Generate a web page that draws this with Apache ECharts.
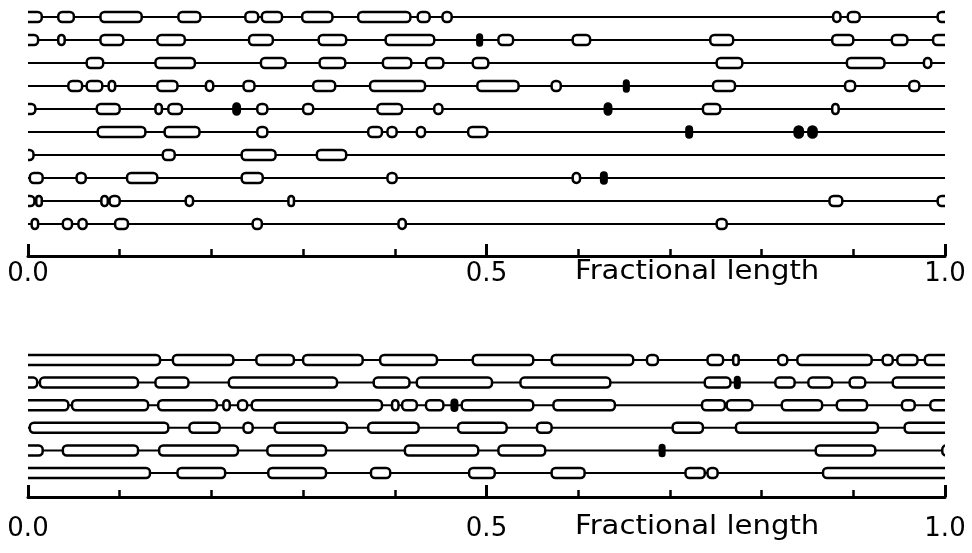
<!DOCTYPE html>
<html>
<head>
<meta charset="utf-8">
<script src="https://cdn.jsdelivr.net/npm/echarts@6/dist/echarts.min.js"></script>
<style>
  html, body { margin: 0; padding: 0; background: #fff; }
  #main { width: 972px; height: 553px; }
</style>
</head>
<body>
<div id="main"></div>
<script>
// segments along each row, as [start, end] in fractional length, third item 1 = solid dot
// (starts below 0 / ends above 1 are cut open at the panel edge)
var top1 = [[-0.02,0.015],[0.033,0.050],[0.079,0.124],[0.164,0.188],[0.237,0.251],[0.255,0.277],[0.299,0.332],[0.360,0.417],[0.425,0.438],[0.452,0.462],[0.878,0.886],[0.894,0.907],[0.992,1.02]];
var top2 = [[-0.02,0.011],[0.033,0.040],[0.079,0.104],[0.141,0.171],[0.241,0.267],[0.317,0.347],[0.390,0.443],[0.490,0.495,1],[0.513,0.529],[0.594,0.613],[0.744,0.769],[0.877,0.900],[0.942,0.959],[0.987,1.02]];
var top3 = [[0.064,0.082],[0.139,0.182],[0.254,0.281],[0.318,0.346],[0.387,0.418],[0.434,0.453],[0.485,0.502],[0.751,0.779],[0.893,0.934],[0.977,0.985]];
var top4 = [[0.044,0.059],[0.064,0.081],[0.088,0.095],[0.141,0.163],[0.194,0.202],[0.235,0.247],[0.311,0.335],[0.373,0.433],[0.490,0.535],[0.571,0.581],[0.650,0.655,1],[0.747,0.771],[0.891,0.902],[0.961,0.972]];
var top5 = [[-0.02,0.008],[0.075,0.100],[0.139,0.146],[0.153,0.168],[0.224,0.231,1],[0.250,0.261],[0.300,0.311],[0.381,0.408],[0.443,0.452],[0.629,0.636,1],[0.736,0.755],[0.877,0.884]];
var top6 = [[0.076,0.128],[0.149,0.187],[0.250,0.261],[0.371,0.386],[0.392,0.402],[0.424,0.433],[0.480,0.501],[0.718,0.724,1],[0.836,0.845,1],[0.851,0.860,1]];
var top7 = [[-0.02,0.006],[0.147,0.160],[0.233,0.270],[0.315,0.347]];
var top8 = [[0.002,0.016],[0.053,0.063],[0.108,0.141],[0.233,0.256],[0.392,0.402],[0.594,0.602],[0.625,0.631,1]];
var top9 = [[-0.02,0.007],[0.009,0.015],[0.080,0.087],[0.089,0.100],[0.172,0.180],[0.284,0.290],[0.874,0.888],[0.992,1.02]];
var top10 = [[0.004,0.011],[0.038,0.048],[0.055,0.064],[0.095,0.109],[0.245,0.255],[0.404,0.412],[0.751,0.762]];

var bot1 = [[-0.02,0.144],[0.158,0.224],[0.249,0.290],[0.300,0.365],[0.384,0.446],[0.485,0.551],[0.571,0.660],[0.675,0.687],[0.741,0.758],[0.769,0.775],[0.818,0.828],[0.839,0.920],[0.932,0.943],[0.948,0.970],[0.978,1.02]];
var bot2 = [[-0.02,0.010],[0.013,0.120],[0.139,0.175],[0.219,0.337],[0.377,0.416],[0.424,0.506],[0.537,0.635],[0.738,0.766],[0.771,0.776,1],[0.815,0.836],[0.851,0.877],[0.896,0.913],[0.943,1.02]];
var bot3 = [[-0.02,0.044],[0.048,0.131],[0.142,0.206],[0.213,0.220],[0.229,0.239],[0.244,0.386],[0.397,0.404],[0.408,0.424],[0.434,0.453],[0.462,0.468,1],[0.473,0.551],[0.573,0.640],[0.735,0.760],[0.762,0.790],[0.822,0.866],[0.882,0.915],[0.953,0.967],[0.984,1.02]];
var bot4 = [[0.002,0.153],[0.176,0.209],[0.235,0.245],[0.269,0.348],[0.371,0.426],[0.469,0.522],[0.555,0.571],[0.703,0.736],[0.772,0.927],[0.956,1.02]];
var bot5 = [[-0.02,0.016],[0.038,0.120],[0.143,0.229],[0.261,0.325],[0.411,0.491],[0.513,0.564],[0.689,0.694,1],[0.859,0.924],[0.997,1.02]];
var bot6 = [[-0.02,0.133],[0.163,0.215],[0.262,0.325],[0.374,0.395],[0.481,0.509],[0.571,0.607],[0.717,0.738],[0.741,0.752],[0.867,1.02]];

var topRows = [top1, top2, top3, top4, top5, top6, top7, top8, top9, top10];
var botRows = [bot1, bot2, bot3, bot4, bot5, bot6];

function boxData(rows) {
  var out = [];
  rows.forEach(function (r, i) {
    r.forEach(function (b) { out.push([i, b[0], b[1], b[2] || 0]); });
  });
  return out;
}
function lineData(rows) {
  return rows.map(function (r, i) { return [i, 0, 1]; });
}

function renderLine(params, api) {
  var a = api.coord([0, api.value(0)]);
  var b = api.coord([1, api.value(0)]);
  return {
    type: 'line',
    shape: { x1: a[0], y1: a[1], x2: b[0], y2: b[1] },
    style: { stroke: '#000', lineWidth: 2 }
  };
}

function renderBox(params, api) {
  var row = api.value(0);
  var a = api.coord([api.value(1), row]);
  var b = api.coord([api.value(2), row]);
  var solid = api.value(3) === 1;
  var h = solid ? 11 : 10, w = b[0] - a[0];
  return {
    type: 'rect',
    shape: { x: a[0], y: a[1] - h / 2, width: w, height: h, r: Math.min(4, w / 2) },
    style: { fill: solid ? '#000' : '#fff', stroke: '#000', lineWidth: 2.5 }
  };
}

function xAxisFor(idx, margin) {
  return {
    gridIndex: idx, type: 'value', position: 'bottom', min: 0, max: 1, interval: 0.5,
    axisLine: { onZero: false, lineStyle: { color: '#000', width: 3 } },
    axisTick: { inside: true, length: 12, lineStyle: { color: '#000', width: 3 } },
    minorTick: { show: true, splitNumber: 5, length: 7, lineStyle: { color: '#000', width: 2.5 } },
    splitLine: { show: false },
    minorSplitLine: { show: false },
    axisLabel: {
      formatter: function (v) { return v.toFixed(1); },
      color: '#000', fontSize: 26, fontFamily: 'DejaVu Sans', margin: margin
    }
  };
}
function yAxisFor(idx, max) {
  return { gridIndex: idx, type: 'value', inverse: true, min: -0.5, max: max, show: false };
}

var chart = echarts.init(document.getElementById('main'));
chart.setOption({
  animation: false,
  backgroundColor: '#fff',
  grid: [
    { left: 28, right: 27, top: 5.5, height: 250.5 },
    { left: 28, right: 27, top: 348.7, height: 148.3 }
  ],
  xAxis: [xAxisFor(0, 5), xAxisFor(1, 19)],
  yAxis: [yAxisFor(0, 10.39), yAxisFor(1, 6.06)],
  graphic: [
    { type: 'text', left: 575, top: 259, scaleX: 1.12, style: { text: 'Fractional length', font: '26px "DejaVu Sans"', fill: '#000' } },
    { type: 'text', left: 575, top: 514, scaleX: 1.12, style: { text: 'Fractional length', font: '26px "DejaVu Sans"', fill: '#000' } }
  ],
  series: [
    { type: 'custom', xAxisIndex: 0, yAxisIndex: 0, clip: true, z: 1, renderItem: renderLine, data: lineData(topRows), encode: { x: [1, 2], y: 0 } },
    { type: 'custom', xAxisIndex: 0, yAxisIndex: 0, clip: true, z: 2, renderItem: renderBox, data: boxData(topRows), encode: { x: [1, 2], y: 0 } },
    { type: 'custom', xAxisIndex: 1, yAxisIndex: 1, clip: true, z: 1, renderItem: renderLine, data: lineData(botRows), encode: { x: [1, 2], y: 0 } },
    { type: 'custom', xAxisIndex: 1, yAxisIndex: 1, clip: true, z: 2, renderItem: renderBox, data: boxData(botRows), encode: { x: [1, 2], y: 0 } }
  ]
});
</script>
</body>
</html>
